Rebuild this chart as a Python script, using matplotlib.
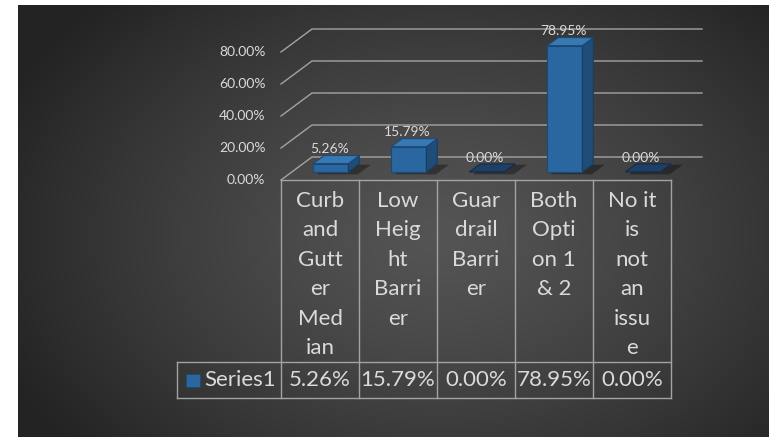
import numpy as np
import matplotlib.pyplot as plt
from matplotlib.patches import Polygon, Rectangle

# data
categories = ["Curb\nand\nGutt\ner\nMed\nian",
              "Low\nHeig\nht\nBarri\ner",
              "Guar\ndrail\nBarri\ner",
              "Both\nOpti\non 1\n& 2",
              "No it\nis\nnot\nan\nissu\ne"]
values = [5.26, 15.79, 0.00, 78.95, 0.00]
y_ticks = [0, 20, 40, 60, 80]
series_name = "Series1"

plt.rcParams['font.family'] = ['Lato', 'DejaVu Sans']

# layout (pixels of the 769x437 picture)
W, H = 769, 437
X0, Y0 = 281, 180        # front-left corner of the floor
COL = 78.0               # px per category column
PPU = 1.6                # px per percent
DX, DY = 31 / COL, 23 / PPU   # depth offset of the back wall
D0, D1 = 0.35, 0.70      # bar depth range (fraction of full depth)
BW = 0.45                # bar width
TXT = '#dadada'
GRID = '#a3a3a3'

fig = plt.figure(figsize=(W / 100, H / 100), dpi=100)
fig.patch.set_facecolor('white')

# dark radial gradient background
bg = fig.add_axes([18 / W, 0, 1 - 18 / W, 1 - 5 / H])
yy, xx = np.mgrid[0:432, 0:751]
r = np.sqrt(((xx - 420) / 470) ** 2 + ((yy - 230) / 330) ** 2)
shade = 0.33 - 0.19 * np.clip(r, 0, 1) ** 1.3
bg.imshow(np.dstack([shade] * 3), aspect='auto', interpolation='bilinear')
bg.axis('off')

ax = fig.add_axes([0, 0, 1, 1])
ax.set_xlim(-X0 / COL, (W - X0) / COL)
ax.set_ylim((Y0 - H) / PPU, Y0 / PPU)
ax.axis('off')
ax.patch.set_alpha(0)

n = len(categories)

# gridlines (front-left diagonal + back wall)
for t in y_ticks:
    ax.plot([0, DX, n + DX], [t, t + DY, t + DY], color=GRID, lw=1, zorder=1)
    ax.text(-0.2, t, f"{t:.2f}%", ha='right', va='center', color=TXT, fontsize=10)

# 3D bars
for i, v in enumerate(values):
    xl = i + 0.5 - BW / 2 + D0 * DX
    xr = xl + BW
    yb = D0 * DY
    ddx, ddy = (D1 - D0) * DX, (D1 - D0) * DY
    # floor shadow
    ax.add_patch(Polygon([(xl + 0.05, yb - 1.5), (xr + 0.12, yb - 1.5),
                          (xr + ddx + 0.15, yb + ddy - 0.5), (xl + ddx + 0.05, yb + ddy - 0.5)],
                         closed=True, fc='black', alpha=0.35, ec='none', zorder=2))
    front = [(xl, yb), (xr, yb), (xr, yb + v), (xl, yb + v)]
    side = [(xr, yb), (xr + ddx, yb + ddy), (xr + ddx, yb + ddy + v), (xr, yb + v)]
    top = [(xl, yb + v), (xr, yb + v), (xr + ddx, yb + ddy + v), (xl + ddx, yb + ddy + v)]
    if v > 0:
        ax.add_patch(Polygon(front, closed=True, fc='#2a66a0', ec='#1d4a74', lw=0.8, zorder=3))
        ax.add_patch(Polygon(side, closed=True, fc='#1f4d7a', ec='#183d61', lw=0.8, zorder=3))
        ax.add_patch(Polygon(top, closed=True, fc='#3878b3', ec='#1d4a74', lw=0.8, zorder=4))
    else:
        ax.add_patch(Polygon(top, closed=True, fc='#1e3f66', ec='#142c48', lw=0.8, zorder=3))
    ax.text(i + 0.5 + 0.3 * DX, v + D1 * DY + 4, f"{v:.2f}%", ha='center', va='center',
            color=TXT, fontsize=10, zorder=5)

# data table
row1 = (180 - 362) / PPU
row2 = (180 - 398) / PPU
leg_x = (177 - X0) / COL
for k in range(n + 1):
    ax.plot([k, k], [0, row2], color=GRID, lw=1, zorder=1)
ax.plot([0, n], [0, 0], color=GRID, lw=1, zorder=1)
ax.plot([leg_x, n], [row1, row1], color=GRID, lw=1, zorder=1)
ax.plot([leg_x, n], [row2, row2], color=GRID, lw=1, zorder=1)
ax.plot([leg_x, leg_x], [row1, row2], color=GRID, lw=1, zorder=1)

line_step = 29.5 / PPU
first_line = (180 - 200.7) / PPU
for i, cat in enumerate(categories):
    for j, part in enumerate(cat.split('\n')):
        ax.text(i + 0.5, first_line - j * line_step, part, ha='center', va='center',
                color=TXT, fontsize=16)

row_mid = (180 - 380) / PPU
for i, v in enumerate(values):
    ax.text(i + 0.5, row_mid, f"{v:.2f}%", ha='center', va='center', color=TXT, fontsize=16)

ax.add_patch(Rectangle(((186 - X0) / COL, (180 - 387) / PPU), 14 / COL, 13 / PPU,
                       fc='#2a66a0', ec='#1d4a74', lw=0.6, zorder=3))
ax.text((204 - X0) / COL, row_mid, series_name, ha='left', va='center', color=TXT, fontsize=16)

fig.savefig('out.png', dpi=100)
